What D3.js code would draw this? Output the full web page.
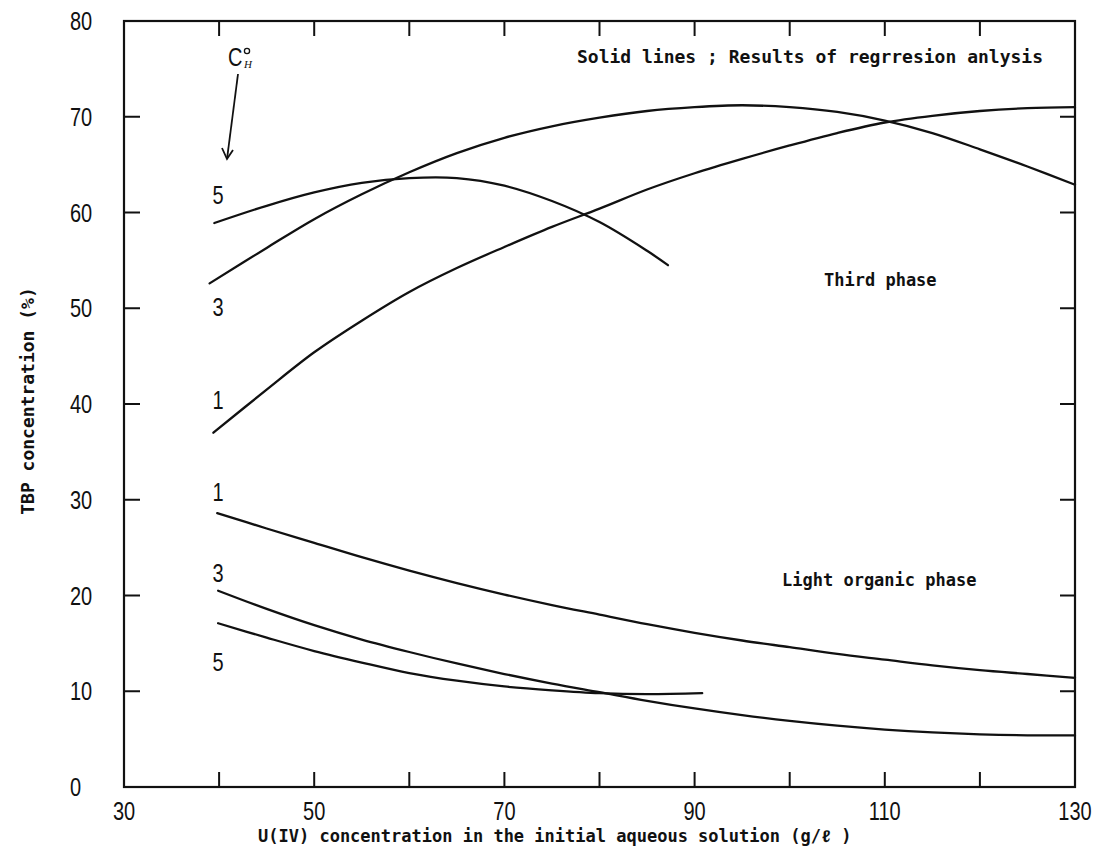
<!DOCTYPE html>
<html>
<head>
<meta charset="utf-8">
<script src="https://cdn.jsdelivr.net/npm/d3@7"></script>
<style>
  html, body { margin: 0; padding: 0; background: #fff; }
  svg { display: block; }
  .num { font-family: "Liberation Sans", Arial, sans-serif; font-size: 25px; fill: #111; }
  .mono { font-family: "DejaVu Sans Mono", "Liberation Mono", monospace; font-weight: bold; fill: #111; }
</style>
</head>
<body>
<svg id="chart" width="1102" height="853"></svg>
<script>
// U(IV) concentration (g/l) vs TBP concentration (%) by initial acidity C°H
const xTicks = [30, 40, 50, 60, 70, 80, 90, 100, 110, 120, 130];
const xTickLabels = [30, 50, 70, 90, 110, 130];
const yTicks = [0, 10, 20, 30, 40, 50, 60, 70, 80];

// Third phase curves
const third5X = [39.5, 45, 50, 55, 60, 65, 70, 75, 80, 85, 87.2];
const third5Y = [58.9, 60.7, 62.1, 63.1, 63.6, 63.6, 62.8, 61.2, 59.0, 56.0, 54.5];

const third3X = [39, 45, 50, 55, 60, 65, 70, 75, 80, 85, 90, 95, 100, 105, 110, 115, 120, 125, 130];
const third3Y = [52.6, 56.3, 59.3, 61.9, 64.2, 66.2, 67.8, 69.0, 69.9, 70.6, 71.0, 71.2, 71.0, 70.5, 69.6, 68.3, 66.6, 64.8, 62.9];

const third1X = [39.4, 45, 50, 55, 60, 65, 70, 75, 80, 85, 90, 95, 100, 105, 110, 115, 120, 125, 130];
const third1Y = [37.0, 41.5, 45.4, 48.7, 51.7, 54.2, 56.4, 58.5, 60.4, 62.4, 64.1, 65.6, 67.0, 68.3, 69.4, 70.1, 70.6, 70.9, 71.0];

// Light organic phase curves
const light1X = [39.8, 45, 50, 55, 60, 65, 70, 75, 80, 85, 90, 95, 100, 105, 110, 115, 120, 125, 130];
const light1Y = [28.6, 27.0, 25.5, 24.0, 22.6, 21.3, 20.1, 19.0, 18.0, 17.0, 16.1, 15.3, 14.6, 13.9, 13.3, 12.7, 12.2, 11.8, 11.4];

const light3X = [39.9, 45, 50, 55, 60, 65, 70, 75, 80, 85, 90, 95, 100, 105, 110, 115, 120, 125, 130];
const light3Y = [20.5, 18.6, 16.9, 15.4, 14.1, 12.9, 11.8, 10.8, 9.9, 9.0, 8.2, 7.5, 6.9, 6.4, 6.0, 5.7, 5.5, 5.4, 5.4];

const light5X = [39.9, 45, 50, 55, 60, 65, 70, 75, 80, 85, 90.8];
const light5Y = [17.1, 15.6, 14.2, 13.0, 11.9, 11.1, 10.5, 10.1, 9.8, 9.7, 9.8];

// Curve labels (initial acidity) at the left end of each curve
const curveLabels = ["5", "3", "1", "1", "3", "5"];
const curveLabelY = [61.8, 50.1, 40.4, 30.8, 22.4, 13.1];

const svg = d3.select("#chart");
const plotLeft = 124, plotRight = 1075, plotTop = 21, plotBottom = 787;

const x = d3.scaleLinear().domain([30, 130]).range([plotLeft, plotRight]);
const y = d3.scaleLinear().domain([0, 80]).range([plotBottom, plotTop]);

const tickLen = 15;
const narrow = 0.8; // horizontal squeeze of the numeral face

// Inward ticks on all four sides
const gTicks = svg.append("g").attr("stroke", "#111").attr("stroke-width", 2);
xTicks.slice(1, -1).forEach(v => {
  gTicks.append("line").attr("x1", x(v)).attr("x2", x(v)).attr("y1", plotBottom).attr("y2", plotBottom - tickLen);
  gTicks.append("line").attr("x1", x(v)).attr("x2", x(v)).attr("y1", plotTop).attr("y2", plotTop + tickLen);
});
yTicks.slice(1, -1).forEach(v => {
  gTicks.append("line").attr("x1", plotLeft).attr("x2", plotLeft + tickLen + 1).attr("y1", y(v)).attr("y2", y(v));
  gTicks.append("line").attr("x1", plotRight).attr("x2", plotRight - tickLen).attr("y1", y(v)).attr("y2", y(v));
});

// Frame
svg.append("rect")
  .attr("x", plotLeft).attr("y", plotTop)
  .attr("width", plotRight - plotLeft).attr("height", plotBottom - plotTop)
  .attr("fill", "none").attr("stroke", "#111").attr("stroke-width", 2.2);

// Tick labels
svg.append("g").selectAll("text").data(xTickLabels).join("text")
  .attr("class", "num")
  .attr("transform", d => `translate(${x(d)},820) scale(${narrow},1)`)
  .attr("text-anchor", "middle")
  .text(d => d);

svg.append("g").selectAll("text").data(yTicks).join("text")
  .attr("class", "num")
  .attr("transform", d => `translate(70,${y(d) + 9}) scale(${narrow},1)`)
  .text(d => d);

// Curves
const line = d3.line().x(d => x(d[0])).y(d => y(d[1])).curve(d3.curveCatmullRom.alpha(0.5));
const series = [
  [third5X, third5Y], [third3X, third3Y], [third1X, third1Y],
  [light1X, light1Y], [light3X, light3Y], [light5X, light5Y]
];
svg.append("g").selectAll("path").data(series).join("path")
  .attr("d", s => line(d3.zip(s[0], s[1])))
  .attr("fill", "none").attr("stroke", "#111").attr("stroke-width", 2.3)
  .attr("stroke-linecap", "round");

// Curve labels
svg.append("g").selectAll("text").data(curveLabels).join("text")
  .attr("class", "num")
  .attr("transform", (d, i) => `translate(${x(39.9)},${y(curveLabelY[i]) + 9}) scale(${narrow},1)`)
  .attr("text-anchor", "middle")
  .text(d => d);

// C°H marker with arrow
const ch = svg.append("g");
ch.append("text").attr("class", "num")
  .attr("transform", `translate(228,66) scale(${narrow},1)`).text("C");
ch.append("circle").attr("cx", 247).attr("cy", 51).attr("r", 2.6)
  .attr("fill", "none").attr("stroke", "#111").attr("stroke-width", 1.3);
ch.append("text").attr("x", 244).attr("y", 68)
  .style("font-family", "'Liberation Serif', serif").style("font-style", "italic")
  .style("font-size", "11px").attr("fill", "#111").text("H");
const arrow = svg.append("g").attr("stroke", "#111").attr("stroke-width", 1.8).attr("fill", "none");
arrow.append("line").attr("x1", 238).attr("y1", 74).attr("x2", 227).attr("y2", 159);
arrow.append("path").attr("d", "M222,148 L227,159 L233,150");

// Annotations
svg.append("text").attr("class", "mono").attr("x", 577).attr("y", 63)
  .style("font-size", "18px")
  .text("Solid lines ; Results of regrresion anlysis");
svg.append("text").attr("class", "mono").attr("x", 824).attr("y", 286)
  .style("font-size", "17px")
  .text("Third phase");
svg.append("text").attr("class", "mono").attr("x", 782).attr("y", 586)
  .style("font-size", "17px")
  .text("Light organic phase");

// Axis titles
svg.append("text").attr("class", "mono")
  .attr("x", 258).attr("y", 842)
  .style("font-size", "17px")
  .text("U(IV) concentration in the initial aqueous solution (g/ℓ )");
svg.append("text").attr("class", "mono")
  .attr("transform", "translate(34,401) rotate(-90)")
  .attr("text-anchor", "middle")
  .style("font-size", "18px")
  .text("TBP concentration (%)");
</script>
</body>
</html>
